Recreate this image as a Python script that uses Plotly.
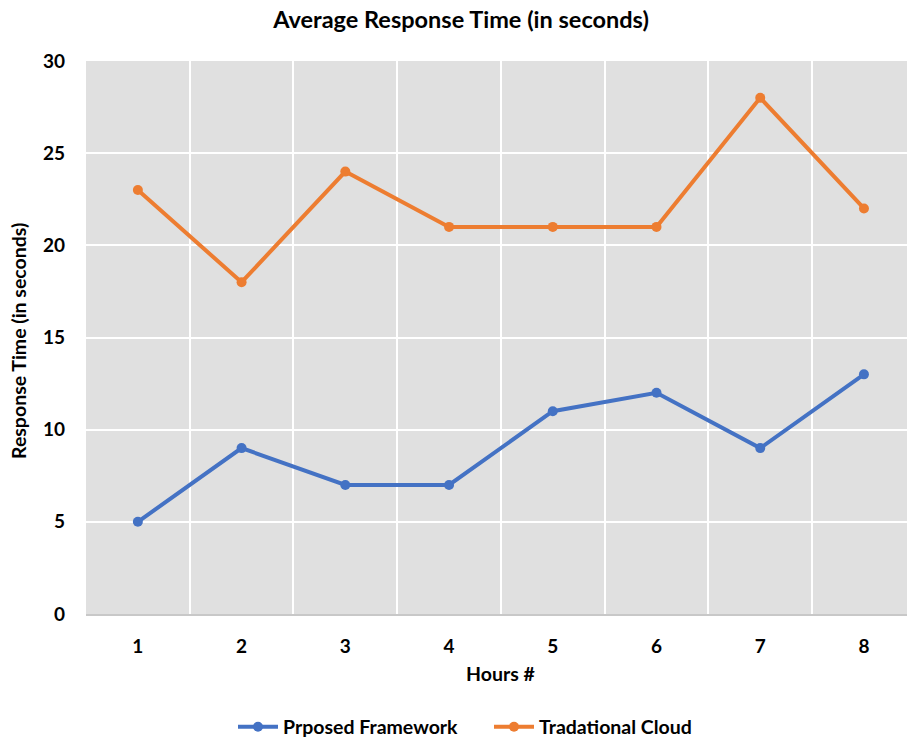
import plotly.graph_objects as go

hours = [1, 2, 3, 4, 5, 6, 7, 8]
proposed = [5, 9, 7, 7, 11, 12, 9, 13]
traditional = [23, 18, 24, 21, 21, 21, 28, 22]
y_ticks = [0, 5, 10, 15, 20, 25, 30]

FONT = "Lato, 'Open Sans', sans-serif"
BLUE = "#4472C4"
ORANGE = "#ED7D31"

fig = go.Figure()
fig.add_trace(go.Scatter(x=hours, y=proposed, mode="lines+markers", name="<b>Prposed Framework</b>",
                         line=dict(color=BLUE, width=4), marker=dict(size=10, color=BLUE)))
fig.add_trace(go.Scatter(x=hours, y=traditional, mode="lines+markers", name="<b>Tradational Cloud</b>",
                         line=dict(color=ORANGE, width=4), marker=dict(size=10, color=ORANGE)))

fig.update_layout(
    width=907, height=741,
    margin=dict(l=86, r=0, t=61, b=127),
    plot_bgcolor="#E0E0E0", paper_bgcolor="white",
    font=dict(family=FONT, color="black", size=19),
    title=dict(text="<b>Average Response Time (in seconds)</b>", x=461 / 907, xref="container",
               xanchor="center", y=1 - 20 / 741, yref="container", yanchor="middle",
               font=dict(size=23.5, family=FONT, color="black")),
    showlegend=True,
    legend=dict(orientation="h", xref="container", yref="container", x=233 / 907, xanchor="left",
                y=1 - 727 / 741, yanchor="middle", font=dict(size=19.5, family=FONT),
                itemwidth=40, entrywidth=201, traceorder="normal"),
    xaxis=dict(range=[0.5, 8.415], tickvals=hours, ticktext=["<b>%d</b>" % h for h in hours],
               showgrid=False, zeroline=False, showline=True, linecolor="#C8C8C8", linewidth=1.5,
               ticks="", ticklabelstandoff=14,
               minor=dict(tick0=0.5, dtick=1, showgrid=True, gridcolor="white", gridwidth=1.5, ticks="")),
    yaxis=dict(range=[0, 30], tickvals=y_ticks, ticktext=["<b>%d</b>" % v for v in y_ticks],
               showgrid=True, gridcolor="white", gridwidth=1.5, zeroline=False, ticks="",
               ticklabelstandoff=20),
    annotations=[
        dict(text="<b>Response Time (in seconds)</b>", textangle=-90, xref="paper", yref="paper",
             x=(18 - 86) / 821, y=(614 - 341) / 553, showarrow=False, xanchor="center", yanchor="middle",
             font=dict(size=19.5, family=FONT)),
        dict(text="<b>Hours #</b>", xref="paper", yref="paper", x=(500 - 86) / 821, y=(614 - 673) / 553,
             showarrow=False, xanchor="center", yanchor="middle", font=dict(size=19.5, family=FONT)),
    ],
)

fig.write_html("out.html", config={"displayModeBar": False},
               post_script="document.body.style.margin='0';document.body.style.overflow='hidden';")
